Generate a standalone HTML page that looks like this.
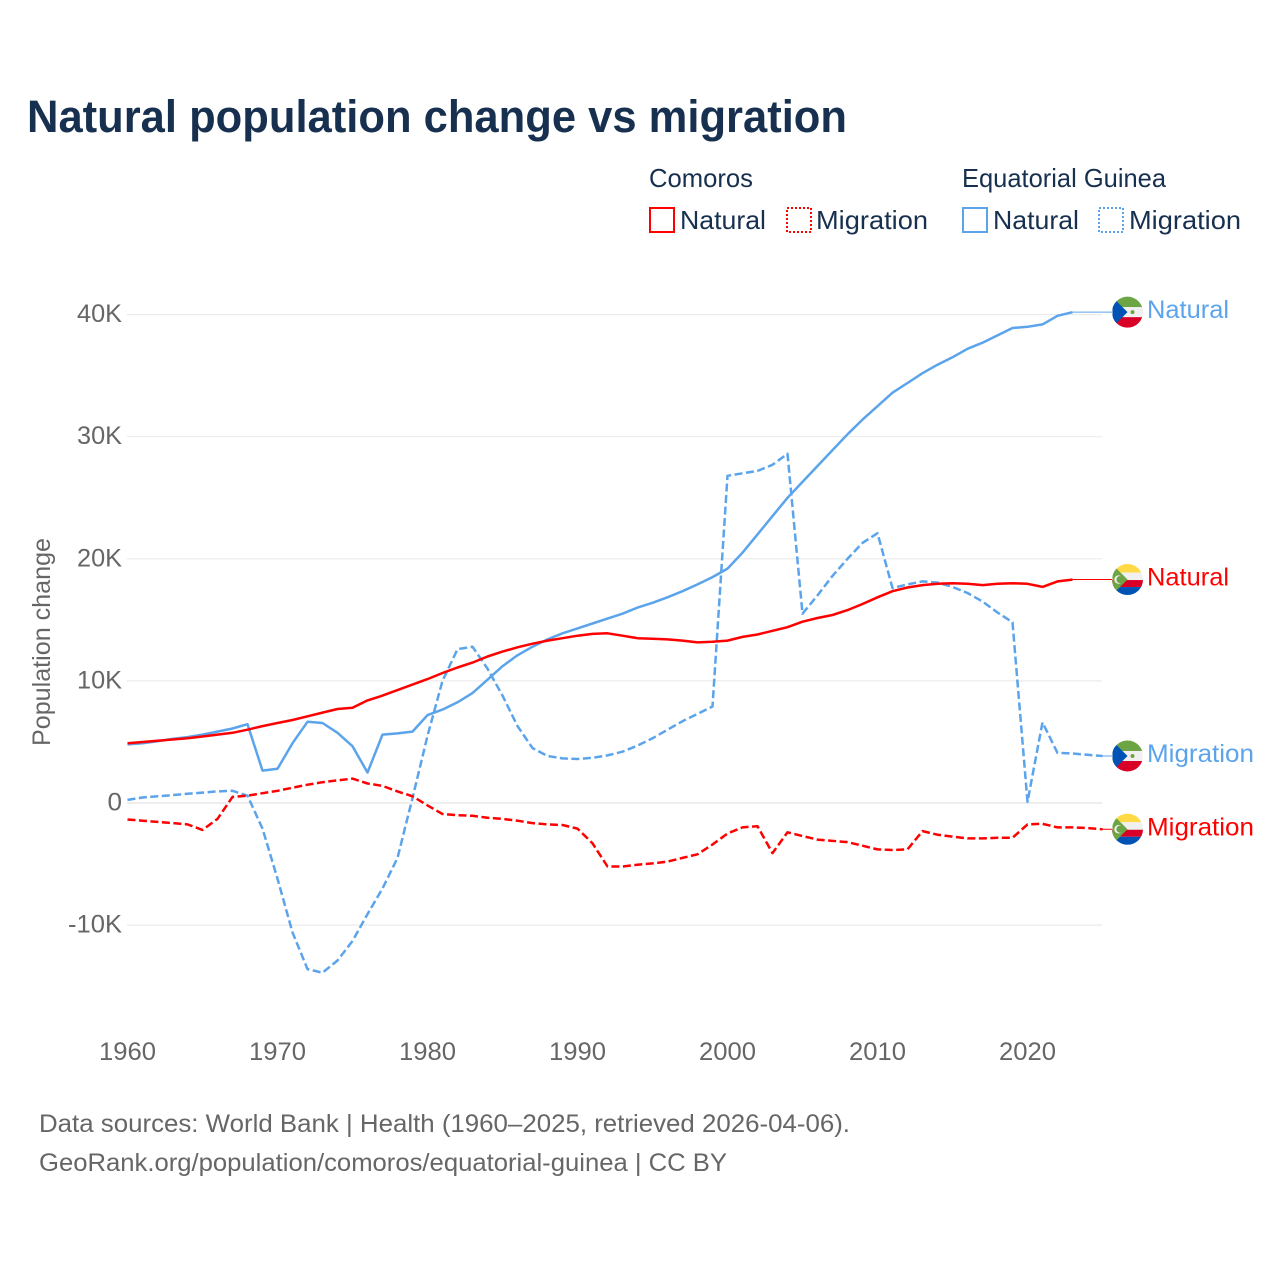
<!DOCTYPE html>
<html lang="en"><head><meta charset="utf-8"><title>Natural population change vs migration</title>
<style>
html,body{margin:0;padding:0;background:#fff}
svg{display:block}
text{font-family:"Liberation Sans",sans-serif}
</style></head><body>
<svg id="chart" xmlns="http://www.w3.org/2000/svg" width="1280" height="1280" viewBox="0 0 1280 1280">
<defs>
<clipPath id="flag-clip"><circle cx="0" cy="0" r="15.5"/></clipPath>
<g id="flag-eg" clip-path="url(#flag-clip)">
<rect x="-16" y="-16" width="32" height="11" fill="#6da544"/>
<rect x="-16" y="-5" width="32" height="10" fill="#f0f0f0"/>
<rect x="-16" y="5" width="32" height="11" fill="#d80027"/>
<path d="M-15,-15 L-15,15 L0,0 Z" fill="#0052b4"/>
<circle cx="5" cy="0" r="2" fill="#6da544"/>
</g>
<g id="flag-km" clip-path="url(#flag-clip)">
<rect x="-16" y="-16" width="32" height="9" fill="#ffda44"/>
<rect x="-16" y="-7" width="32" height="7.5" fill="#f0f0f0"/>
<rect x="-16" y="0.5" width="32" height="7" fill="#d80027"/>
<rect x="-16" y="7.5" width="32" height="8.5" fill="#0052b4"/>
<path d="M-15,-15 L-15,15 L0,0 Z" fill="#6da544"/>
<circle cx="-9" cy="0" r="4.2" fill="#f0f0f0"/>
<circle cx="-7.5" cy="0" r="3.6" fill="#6da544"/>
</g>
</defs>
<text x="27" y="132" font-size="45" font-weight="700" fill="#18304f" textLength="820" lengthAdjust="spacingAndGlyphs">Natural population change vs migration</text>
<g id="legend" font-size="26" fill="#18304f">
<text x="649" y="187" textLength="104" lengthAdjust="spacingAndGlyphs">Comoros</text>
<text x="962" y="187" textLength="204" lengthAdjust="spacingAndGlyphs">Equatorial Guinea</text>
<rect x="650" y="208" width="24" height="24" fill="none" stroke="#ff0000" stroke-width="2"/>
<text x="680" y="229" textLength="86" lengthAdjust="spacingAndGlyphs">Natural</text>
<rect x="787" y="208" width="24" height="24" fill="none" stroke="#ff0000" stroke-width="2" stroke-dasharray="2 2"/>
<text x="816" y="229" textLength="112" lengthAdjust="spacingAndGlyphs">Migration</text>
<rect x="963" y="208" width="24" height="24" fill="none" stroke="#5ba4ec" stroke-width="2"/>
<text x="993" y="229" textLength="86" lengthAdjust="spacingAndGlyphs">Natural</text>
<rect x="1099" y="208" width="24" height="24" fill="none" stroke="#5ba4ec" stroke-width="2" stroke-dasharray="2 2"/>
<text x="1129" y="229" textLength="112" lengthAdjust="spacingAndGlyphs">Migration</text>
</g>
<text transform="translate(50,642) rotate(-90)" text-anchor="middle" font-size="25" fill="#666666" textLength="208" lengthAdjust="spacingAndGlyphs">Population change</text>
<g id="grid"></g>
<g id="y-ticks" font-size="25" fill="#666666"></g>
<g id="x-ticks" font-size="25" fill="#666666"></g>
<g id="series"></g>
<g id="end-labels" font-size="25"></g>
<text x="39" y="1132" font-size="25" fill="#666666" textLength="811" lengthAdjust="spacingAndGlyphs">Data sources: World Bank | Health (1960–2025, retrieved 2026-04-06).</text>
<text x="39" y="1171" font-size="25" fill="#666666" textLength="688" lengthAdjust="spacingAndGlyphs">GeoRank.org/population/comoros/equatorial-guinea | CC BY</text>
</svg>
<script>
const startYear = 1960;
const yTickValues = [-10, 0, 10, 20, 30, 40];
const yTickLabels = ["-10K", "0", "10K", "20K", "30K", "40K"];
const xTickYears = [1960, 1970, 1980, 1990, 2000, 2010, 2020];
const comorosNatural = [4.9,5.0,5.1,5.2,5.3,5.45,5.6,5.75,6.0,6.3,6.55,6.8,7.1,7.4,7.7,7.8,8.4,8.8,9.25,9.7,10.15,10.65,11.1,11.5,12.0,12.4,12.75,13.05,13.3,13.5,13.7,13.85,13.9,13.7,13.5,13.45,13.4,13.3,13.15,13.2,13.3,13.6,13.8,14.1,14.4,14.85,15.15,15.4,15.8,16.3,16.85,17.35,17.65,17.85,17.95,18.0,17.95,17.85,17.95,18.0,17.95,17.7,18.15,18.3];
const comorosMigration = [-1.35,-1.45,-1.55,-1.65,-1.75,-2.2,-1.3,0.5,0.6,0.8,1.0,1.25,1.5,1.7,1.85,2.0,1.6,1.4,0.95,0.55,-0.2,-0.9,-1.0,-1.05,-1.2,-1.3,-1.45,-1.65,-1.75,-1.8,-2.1,-3.3,-5.2,-5.2,-5.05,-4.95,-4.8,-4.5,-4.2,-3.4,-2.5,-2.0,-1.9,-4.1,-2.4,-2.7,-3.0,-3.1,-3.2,-3.5,-3.8,-3.85,-3.8,-2.3,-2.6,-2.75,-2.9,-2.9,-2.85,-2.85,-1.75,-1.7,-2.0,-2.0,-2.05,-2.15];
const eqGuineaNatural = [4.8,4.9,5.05,5.25,5.4,5.6,5.85,6.1,6.45,2.65,2.8,4.9,6.65,6.55,5.75,4.65,2.5,5.6,5.7,5.85,7.2,7.65,8.25,9.0,10.1,11.2,12.1,12.8,13.4,13.9,14.3,14.7,15.1,15.5,16.0,16.4,16.85,17.35,17.9,18.5,19.2,20.5,22.0,23.5,25.0,26.3,27.6,28.9,30.2,31.4,32.5,33.6,34.4,35.2,35.9,36.5,37.2,37.7,38.3,38.9,39.0,39.2,39.9,40.2];
const eqGuineaMigration = [0.25,0.45,0.55,0.65,0.75,0.85,0.95,1.0,0.6,-2.1,-6.2,-10.6,-13.6,-13.9,-12.9,-11.3,-9.1,-7.0,-4.5,0.4,5.5,10.0,12.6,12.8,11.0,8.8,6.3,4.5,3.85,3.65,3.6,3.7,3.9,4.2,4.7,5.3,6.0,6.7,7.3,7.9,26.8,27.0,27.2,27.7,28.6,15.5,17.0,18.6,20.0,21.3,22.1,17.6,17.9,18.15,18.05,17.7,17.2,16.5,15.6,14.8,0.1,6.6,4.1,4.05,3.95,3.85];

const NS = "http://www.w3.org/2000/svg";
const RED = "#ff0000", BLUE = "#5ba4ec";
function xScale(year) { return 127.5 + (year - 1960) * 15.0; }
function yScale(k) { return 803 - k * 12.21; }
function tickWidth(label) {
  let w = 0;
  for (const c of label) w += c === "-" ? 9 : c === "K" ? 16 : 14.5;
  return w;
}
function make(tag, attrs, parent) {
  const el = document.createElementNS(NS, tag);
  for (const k in attrs) el.setAttribute(k, attrs[k]);
  parent.appendChild(el);
  return el;
}

const gridG = document.getElementById("grid");
const yG = document.getElementById("y-ticks");
const xG = document.getElementById("x-ticks");
const seriesG = document.getElementById("series");
const endG = document.getElementById("end-labels");

yTickValues.forEach(function (v, i) {
  const line = make("line", {x1: 127, x2: 1102, y1: yScale(v), y2: yScale(v), stroke: v === 0 ? "#e4e4e4" : "#ebebeb", "stroke-width": 1.2}, gridG);
  
  
  const t = make("text", {x: 122, y: yScale(v) + 7.5, "text-anchor": "end", textLength: tickWidth(yTickLabels[i]), lengthAdjust: "spacingAndGlyphs"}, yG);
  t.textContent = yTickLabels[i];
  
  
});

xTickYears.forEach(function (yr) {
  const t = make("text", {x: xScale(yr), y: 1060, "text-anchor": "middle", textLength: 57, lengthAdjust: "spacingAndGlyphs"}, xG);
  t.textContent = String(yr);
  
  
});

function drawSeries(values, color, dashed, name) {
  const pts = values.map(function (v, i) { return xScale(startYear + i).toFixed(1) + "," + yScale(v).toFixed(1); });
  const attrs = {points: pts.join(" "), fill: "none", stroke: color, "stroke-width": 2.5, "stroke-linejoin": "round"};
  if (dashed) attrs["stroke-dasharray"] = "8 3.5";
  const line = make("polyline", attrs, seriesG);
  
  
}

function drawEnd(values, color, flagId, text, width, name) {
  const last = values[values.length - 1];
  const lx = xScale(startYear + values.length - 1);
  const ly = yScale(last);
  const conn = make("line", {x1: lx, x2: 1113, y1: ly, y2: ly, stroke: color, "stroke-width": 1}, endG);
  
  
  const flag = make("use", {href: "#" + flagId, x: 1127.5, y: ly}, endG);
  
  
  const t = make("text", {x: 1147, y: ly + 6, fill: color, textLength: width, lengthAdjust: "spacingAndGlyphs"}, endG);
  t.textContent = text;
  
  
}

drawSeries(eqGuineaMigration, BLUE, true, "line-eq-guinea-migration");
drawSeries(comorosMigration, RED, true, "line-comoros-migration");
drawSeries(eqGuineaNatural, BLUE, false, "line-eq-guinea-natural");
drawSeries(comorosNatural, RED, false, "line-comoros-natural");
drawEnd(eqGuineaNatural, BLUE, "flag-eg", "Natural", 82, "end-eq-guinea-natural");
drawEnd(comorosNatural, RED, "flag-km", "Natural", 82, "end-comoros-natural");
drawEnd(eqGuineaMigration, BLUE, "flag-eg", "Migration", 107, "end-eq-guinea-migration");
drawEnd(comorosMigration, RED, "flag-km", "Migration", 107, "end-comoros-migration");
</script>
</body></html>
